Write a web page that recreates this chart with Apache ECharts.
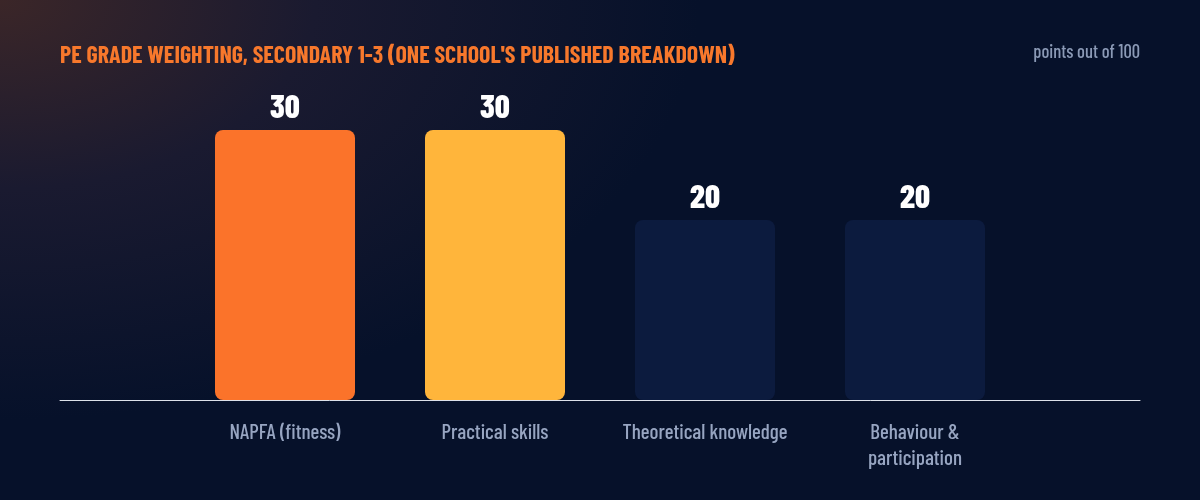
<!DOCTYPE html>
<html>
<head>
<meta charset="utf-8">
<script src="https://cdn.jsdelivr.net/npm/echarts@6/dist/echarts.min.js"></script>
<style>
  html, body { margin: 0; padding: 0; }
  body {
    width: 1200px; height: 500px;
    background: radial-gradient(ellipse 700px 420px at 0 0, #3b2628 0%, #1a1a30 45%, #06112a 100%);
    background-color: #06112a;
  }
  #chart { width: 1200px; height: 500px; }
</style>
</head>
<body>
<div id="chart"></div>
<script>
var FONT = "'Barlow Condensed', 'Liberation Sans Narrow', 'DejaVu Sans Condensed', sans-serif";

var categories = ['NAPFA (fitness)', 'Practical skills', 'Theoretical knowledge', 'Behaviour &\nparticipation'];
var weights = [30, 30, 20, 20];
var barColors = ['#fb732a', '#ffb53b', '#0c1b3e', '#0c1b3e'];

var myChart = echarts.init(document.getElementById('chart'), null, { renderer: 'canvas' });

var option = {
    backgroundColor: 'transparent',
    animation: false,
    title: [{
        text: "PE GRADE WEIGHTING, SECONDARY 1-3 (ONE SCHOOL'S PUBLISHED BREAKDOWN)",
        left: 55,
        top: 38,
        textStyle: { color: '#f7782c', fontSize: 24, fontWeight: 'bold', fontFamily: FONT }
    }, {
        text: 'points out of 100',
        right: 55,
        top: 37,
        textStyle: { color: '#8b9ab6', fontSize: 18.5, fontWeight: 500, fontFamily: FONT }
    }],
    grid: [
        { left: 180, right: 180, top: 130, bottom: 100 },
        { left: 60, right: 60, top: 130, bottom: 100 }
    ],
    xAxis: [{
        type: 'category',
        gridIndex: 0,
        data: categories,
        axisLine: { show: false },
        axisTick: { show: false },
        axisLabel: {
            color: '#97a5c1',
            fontSize: 21,
            fontWeight: 500,
            fontFamily: FONT,
            margin: 19,
            lineHeight: 26,
            interval: 0
        }
    }, {
        type: 'category',
        gridIndex: 1,
        data: [''],
        z: 1,
        axisLine: { show: true, lineStyle: { color: '#dde2ea', width: 1 } },
        axisTick: { show: false },
        axisLabel: { show: false }
    }],
    yAxis: [{
        type: 'value',
        gridIndex: 0,
        min: 0,
        max: 30,
        show: false
    }, {
        type: 'value',
        gridIndex: 1,
        min: 0,
        max: 30,
        show: false
    }],
    series: [{
        type: 'bar',
        xAxisIndex: 0,
        yAxisIndex: 0,
        z: 5,
        barWidth: 140,
        data: weights.map(function (v, i) {
            return { value: v, itemStyle: { color: barColors[i] } };
        }),
        itemStyle: { borderRadius: 8 },
        label: {
            show: true,
            position: 'top',
            distance: 7,
            color: '#ffffff',
            fontSize: 33,
            fontWeight: 800,
            fontFamily: FONT
        }
    }]
};

myChart.setOption(option);
</script>
</body>
</html>
